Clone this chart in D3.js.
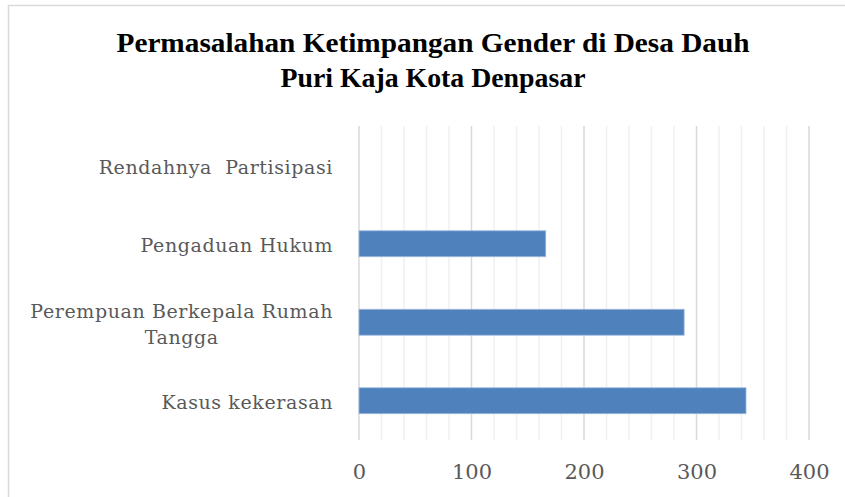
<!DOCTYPE html>
<html>
<head>
<meta charset="utf-8">
<script src="https://cdn.jsdelivr.net/npm/d3@7"></script>
<style>
    body { margin: 0; background: #fff; }
</style>
</head>
<body>
<div id="chart"></div>
<script>
// Categories from top to bottom, as drawn
var categories = ["Rendahnya  Partisipasi", "Pengaduan Hukum", "Perempuan Berkepala Rumah Tangga", "Kasus kekerasan"];
var categoryLines = [["Rendahnya  Partisipasi"], ["Pengaduan Hukum"], ["Perempuan Berkepala Rumah", "Tangga"], ["Kasus kekerasan"]];
var values = [0, 166, 289, 344];
var majorTicks = [0, 100, 200, 300, 400];
var minorTicks = [20, 40, 60, 80, 120, 140, 160, 180, 220, 240, 260, 280, 320, 340, 360, 380];
var titleLines = ["Permasalahan Ketimpangan Gender di Desa Dauh", "Puri Kaja Kota Denpasar"];

var width = 845;
var height = 497;

var svg = d3.select("#chart")
    .append("svg")
    .attr("width", width)
    .attr("height", height);

// chart frame (only left and top edges show)
svg.append("path")
    .attr("d", "M8.5," + height + "V5.5H" + width)
    .attr("fill", "none")
    .attr("stroke", "#d9d9d9")
    .attr("stroke-width", 1.5);

var x = d3.scaleLinear().domain([0, 400]).range([359, 809]);
var y = d3.scaleBand().domain(categories).range([126, 440]).paddingInner(0.67).paddingOuter(0.335);

svg.selectAll(".minor")
    .data(minorTicks)
    .enter()
    .append("line")
    .attr("class", "minor")
    .attr("x1", function (d) { return x(d); })
    .attr("x2", function (d) { return x(d); })
    .attr("y1", 126)
    .attr("y2", 440)
    .attr("stroke", "#f0f0f0")
    .attr("stroke-width", 1.5);

svg.selectAll(".major")
    .data(majorTicks)
    .enter()
    .append("line")
    .attr("class", "major")
    .attr("x1", function (d) { return x(d); })
    .attr("x2", function (d) { return x(d); })
    .attr("y1", 126)
    .attr("y2", 440)
    .attr("stroke", "#d9d9d9")
    .attr("stroke-width", 1.5);

svg.selectAll(".bar")
    .data(values)
    .enter()
    .append("rect")
    .attr("class", "bar")
    .attr("x", x(0))
    .attr("y", function (d, i) { return y(categories[i]); })
    .attr("width", function (d) { return x(d) - x(0); })
    .attr("height", y.bandwidth())
    .attr("fill", "#4f81bd")
    .attr("stroke", function (d) { return d > 0 ? "#9ab8de" : "none"; })
    .attr("stroke-width", 0.8);

// x axis tick labels
var xAxis = svg.append("g")
    .attr("transform", "translate(0," + 446 + ")")
    .call(d3.axisBottom(x).tickValues(majorTicks).tickSize(0).tickPadding(0));
xAxis.select(".domain").remove();
xAxis.selectAll("text")
    .attr("dy", 0)
    .attr("y", 33)
    .attr("font-family", "'DejaVu Serif', serif")
    .attr("font-size", 21)
    .attr("fill", "#595959");

// category labels
categoryLines.forEach(function (lines, i) {
    var cy = y(categories[i]) + y.bandwidth() / 2;
    var t = svg.append("text")
        .attr("text-anchor", "middle")
        .attr("font-family", "'DejaVu Serif', serif")
        .attr("font-size", 19)
        .attr("letter-spacing", 0.6)
        .attr("fill", "#595959");
    lines.forEach(function (line, j) {
        t.append("tspan")
            .attr("x", 0)
            .attr("y", cy + 8.6 - (lines.length - 1) * 13 + j * 26)
            .attr("xml:space", "preserve")
            .text(line);
    });
    // right align block, centre each line within it
    var w = t.node().getBBox().width;
    t.selectAll("tspan").attr("x", 333 - w / 2);
});

var titleWidths = [633, 305];
svg.selectAll(".title")
    .data(titleLines)
    .enter()
    .append("text")
    .attr("class", "title")
    .attr("x", 433)
    .attr("y", function (d, i) { return 52 + i * 35; })
    .attr("text-anchor", "middle")
    .attr("font-family", "'Liberation Serif', serif")
    .attr("font-weight", "bold")
    .attr("font-size", 28)
    .attr("textLength", function (d, i) { return titleWidths[i]; })
    .attr("lengthAdjust", "spacingAndGlyphs")
    .attr("fill", "#000")
    .text(function (d) { return d; });
</script>
</body>
</html>
